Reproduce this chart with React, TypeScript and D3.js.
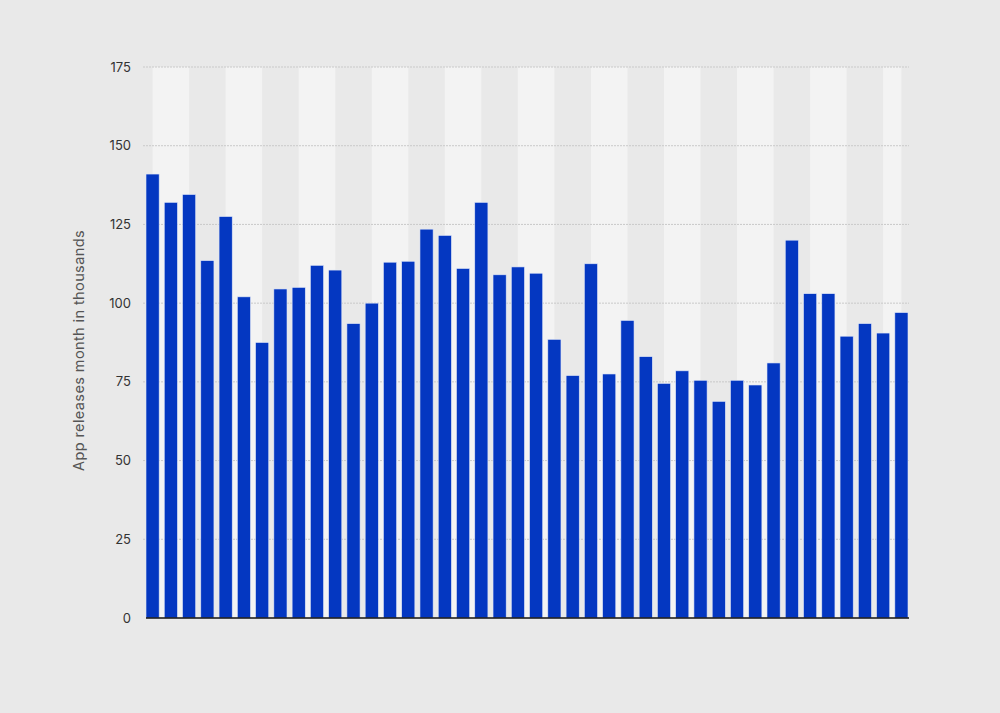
import React, { useEffect, useRef } from 'react';
import * as d3 from 'd3';

// monthly app releases (thousands), oldest first
const releases = [
  141, 132, 134.5, 113.5, 127.5, 102, 87.5, 104.5, 105, 112, 110.5, 93.5, 100, 113,
  113.3, 123.5, 121.5, 111, 132, 109, 111.5, 109.5, 88.5, 77, 112.5, 77.5, 94.5, 83,
  74.5, 78.5, 75.5, 68.8, 75.5, 74, 81, 120, 103, 103, 89.5, 93.5, 90.5, 97,
];
const months = releases.map((_, i) => `m${i + 1}`);
const yTicks = [0, 25, 50, 75, 100, 125, 150, 175];
const yLabel = 'App releases month in thousands';

const width = 1000;
const height = 713;
const margin = { top: 67, right: 91, bottom: 95, left: 146 };

const App = () => {
  const ref = useRef<SVGSVGElement | null>(null);

  useEffect(() => {
    if (!ref.current) return;
    const svg = d3.select(ref.current);
    svg.selectAll('*').remove();

    const x = d3.scaleBand<string>()
      .domain(months)
      .range([margin.left, width - margin.right - 1])
      .paddingInner(0.28)
      .paddingOuter(0);
    const y = d3.scaleLinear().domain([0, 175]).range([height - margin.bottom, margin.top]);

    svg.append('rect').attr('width', width).attr('height', height).attr('fill', '#e9e9e9');

    // alternating light columns, two months wide
    const centre = (i: number) => x(months[i])! + x.bandwidth() / 2;
    const lastCentre = centre(months.length - 1);
    const stripes = d3.range(0, months.length, 4);
    svg.append('g')
      .selectAll('rect')
      .data(stripes)
      .join('rect')
      .attr('x', i => centre(i))
      .attr('y', margin.top)
      .attr('width', i => Math.min(i + 2 < months.length ? centre(i + 2) : lastCentre, lastCentre) - centre(i))
      .attr('height', y(0) - margin.top)
      .attr('fill', '#f3f3f3');

    // grid
    svg.append('g')
      .selectAll('line')
      .data(yTicks.filter(t => t > 0))
      .join('line')
      .attr('x1', margin.left - 3)
      .attr('x2', width - margin.right)
      .attr('y1', d => y(d))
      .attr('y2', d => y(d))
      .attr('stroke', '#c9c9c9')
      .attr('stroke-width', 1)
      .attr('stroke-dasharray', '2,1');

    // bars
    svg.append('g')
      .selectAll('rect')
      .data(releases)
      .join('rect')
      .attr('x', (_, i) => x(months[i])!)
      .attr('y', d => y(d))
      .attr('width', x.bandwidth())
      .attr('height', d => y(0) - y(d))
      .attr('fill', '#0437c1')
      .attr('stroke', '#dfe6f7')
      .attr('stroke-width', 0.6);

    // baseline
    svg.append('line')
      .attr('x1', margin.left)
      .attr('x2', width - margin.right)
      .attr('y1', y(0))
      .attr('y2', y(0))
      .attr('stroke', '#111')
      .attr('stroke-width', 1.6);

    // y tick labels
    svg.append('g')
      .selectAll('text')
      .data(yTicks)
      .join('text')
      .attr('x', 131)
      .attr('y', d => y(d))
      .attr('dy', '0.35em')
      .attr('text-anchor', 'end')
      .attr('font-family', 'Inter, "Open Sans", sans-serif')
      .attr('font-size', 13)
      .attr('fill', '#333')
      .text(d => d);

    svg.append('text')
      .attr('transform', `translate(84, ${(margin.top + y(0)) / 2 + 8}) rotate(-90)`)
      .attr('text-anchor', 'middle')
      .attr('font-family', 'Inter, "Open Sans", sans-serif')
      .attr('font-size', 14.5)
      .attr('letter-spacing', 0.4)
      .attr('fill', '#555')
      .text(yLabel);
  }, []);

  return (
    <div style={{ position: 'absolute', top: 0, left: 0 }}>
      <svg ref={ref} width={width} height={height}></svg>
    </div>
  );
};

export default App;
